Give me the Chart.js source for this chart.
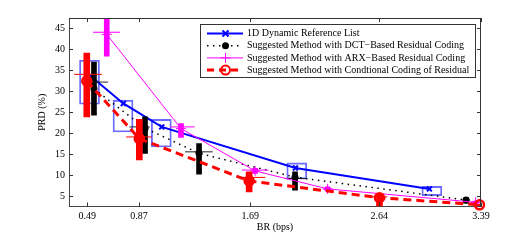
<!DOCTYPE html>
<html>
<head>
<meta charset="utf-8">
<script src="https://cdn.jsdelivr.net/npm/chart.js@4.4.1/dist/chart.umd.min.js"></script>
<style>
html, body { margin: 0; padding: 0; background: #fff; }
#wrap { width: 532px; height: 249px; }
</style>
</head>
<body>
<div id="wrap"><canvas id="chart" width="532" height="249"></canvas></div>
<script>
// tick labels
const xTicks = [0.49, 0.87, 1.69, 2.64, 3.39];
const yTicks = [5, 10, 15, 20, 25, 30, 35, 40, 45];

// 1D Dynamic Reference List
const refBR = [0.52, 0.755, 1.038, 2.023, 3.01];
const refPRD = [33.5, 27.1, 21.5, 11.7, 6.7];
const refBoxX = [0.506, 0.753, 1.035, 2.033, 3.028];
const refBoxLo = [26.9, 20.3, 16.7, 9.05, 5.1];
const refBoxHi = [37.4, 27.9, 23.3, 12.9, 7.3];

// DCT-based residual coding
const dctBR = [0.539, 0.915, 1.313, 2.02, 3.28];
const dctPRD = [30.6, 21.2, 15.2, 9.5, 4.05];
const dctLo = [24.3, 15.2, 10.2, 6.4, 3.3];
const dctHi = [37.0, 23.9, 17.55, 10.8, 4.6];
const dctHY = [32.2, 21.5, 15.55, 9.2, 4.05];
const dctHLo = [0.45, 0.80, 1.21, 1.947, 3.25];
const dctHHi = [0.643, 0.95, 1.414, 2.106, 3.31];

// ARX-based residual coding
const arxBR = [0.633, 1.18, 1.726, 2.26, 3.35];
const arxPRD = [43.6, 21.1, 11.0, 6.7, 3.5];
const arxLo = [38.4, 19.0, 10.4, 6.2, 3.2];
const arxHi = [49, 22.3, 11.6, 7.2, 3.8];
const arxHY = [44.1, 21.5, 11.2, 6.7, 3.5];
const arxHLo = [0.532, 1.10, 1.628, 2.23, 3.32];
const arxHHi = [0.731, 1.28, 1.824, 2.29, 3.38];

// conditional coding of residual
const condBR = [0.486, 0.873, 1.682, 2.642, 3.379];
const condPRD = [32.45, 18.7, 8.6, 4.6, 2.9];
const condLo = [23.9, 13.6, 6.0, 2.6, 2.7];
const condHi = [39.1, 23.3, 10.8, 5.6, 3.1];
const condHY = [34.05, 19.1, 9.45, 4.8, 2.9];
const condHLo = [0.392, 0.775, 1.63, 2.58, 3.36];
const condHHi = [0.596, 0.965, 1.80, 2.70, 3.39];

const legendLabels = [
  '1D Dynamic Reference List',
  'Suggested Method with DCT\u2212Based Residual Coding',
  'Suggested Method with ARX\u2212Based Residual Coding',
  'Suggested Method with Condtional Coding of Residual'
];

const BLUE = '#0000ff', BLACK = '#000000', MAG = '#ff00ff', RED = '#ff0000';

function pts(xs, ys) {
  return xs.map((x, i) => ({ x: x, y: ys[i] }));
}
function bars(xs, lo, hi) {
  return xs.map((x, i) => ({ x: x, y: [lo[i], hi[i]] }));
}
function hsegs(ys, lo, hi) {
  const out = [];
  ys.forEach((y, i) => {
    out.push({ x: lo[i], y: y }, { x: hi[i], y: y }, { x: hi[i], y: null });
  });
  return out;
}
function barSet(data, color, w, order) {
  return { type: 'bar', data: data, backgroundColor: color, borderWidth: 0,
    barThickness: w, grouped: false, order: order, clip: 0 };
}
function hSet(data, color, order) {
  return { type: 'line', data: data, borderColor: color, borderWidth: 1,
    pointRadius: 0, spanGaps: false, order: order };
}

Chart.defaults.font.family = "'Liberation Serif', 'DejaVu Serif', serif";
Chart.defaults.font.size = 10;
Chart.defaults.color = '#000';

// box frame with inward ticks
const frame = {
  id: 'frame',
  afterDatasetsDraw(chart) {
    const { ctx, chartArea: a, scales } = chart;
    ctx.save();
    ctx.strokeStyle = '#333';
    ctx.lineWidth = 1;
    ctx.beginPath();
    ctx.moveTo(a.left, a.top + 0.5); ctx.lineTo(a.right, a.top + 0.5);
    ctx.moveTo(a.right - 0.5, a.top); ctx.lineTo(a.right - 0.5, a.bottom);
    xTicks.forEach(v => {
      const x = Math.round(scales.x.getPixelForValue(v)) + 0.5;
      ctx.moveTo(x, a.bottom); ctx.lineTo(x, a.bottom - 4);
      ctx.moveTo(x, a.top); ctx.lineTo(x, a.top + 4);
    });
    yTicks.forEach(v => {
      const y = Math.round(scales.y.getPixelForValue(v)) + 0.5;
      ctx.moveTo(a.left, y); ctx.lineTo(a.left + 4, y);
      ctx.moveTo(a.right, y); ctx.lineTo(a.right - 4, y);
    });
    ctx.stroke();
    ctx.restore();
  }
};

// legend box with line samples
const legendBox = {
  id: 'legendBox',
  afterDatasetsDraw(chart) {
    const ctx = chart.ctx;
    const bx = 200.5, by = 24.5, bw = 275, bh = 53;
    ctx.save();
    ctx.fillStyle = '#fff';
    ctx.fillRect(bx, by, bw, bh);
    ctx.strokeStyle = '#333';
    ctx.lineWidth = 1;
    ctx.strokeRect(bx, by, bw, bh);
    const styles = [
      { c: BLUE, w: 2, dash: [] },
      { c: BLACK, w: 1.5, dash: [1.5, 4.5] },
      { c: MAG, w: 1, dash: [] },
      { c: RED, w: 3, dash: [7, 5] }
    ];
    legendLabels.forEach((t, i) => {
      const y = 33.5 + i * 12.2;
      const s = styles[i];
      ctx.strokeStyle = s.c;
      ctx.lineWidth = s.w;
      ctx.setLineDash(s.dash);
      ctx.beginPath();
      ctx.moveTo(207, y); ctx.lineTo(243, y);
      ctx.stroke();
      ctx.setLineDash([]);
      const mx = 225.5;
      ctx.beginPath();
      if (i === 0) {
        ctx.lineWidth = 2;
        ctx.moveTo(mx - 3, y - 3); ctx.lineTo(mx + 3, y + 3);
        ctx.moveTo(mx - 3, y + 3); ctx.lineTo(mx + 3, y - 3);
        ctx.stroke();
      } else if (i === 1) {
        ctx.fillStyle = BLACK;
        ctx.arc(mx, y, 3.5, 0, Math.PI * 2);
        ctx.fill();
      } else if (i === 2) {
        ctx.lineWidth = 1;
        ctx.moveTo(mx - 5, y); ctx.lineTo(mx + 5, y);
        ctx.moveTo(mx, y - 5); ctx.lineTo(mx, y + 5);
        ctx.stroke();
      } else {
        ctx.lineWidth = 2;
        ctx.arc(mx, y, 4.5, 0, Math.PI * 2);
        ctx.stroke();
      }
      ctx.fillStyle = '#000';
      ctx.font = "10px 'Liberation Serif'";
      ctx.textBaseline = 'middle';
      ctx.fillText(t, 247, y);
    });
    ctx.restore();
  }
};

const ctx = document.getElementById('chart');
const chart = new Chart(ctx, {
  type: 'line',
  data: {
    datasets: [
      { type: 'bar', data: bars(refBoxX, refBoxLo, refBoxHi), backgroundColor: 'transparent',
        borderColor: 'rgba(70,70,255,0.8)', borderWidth: 1.2, borderSkipped: false,
        barThickness: 20, grouped: false, order: 20, clip: 0 },
      { data: pts(refBR, refPRD), borderColor: BLUE, borderWidth: 2, pointStyle: 'crossRot',
        pointRadius: 3.5, pointBorderWidth: 2, pointBorderColor: BLUE, order: 15, clip: 8 },
      barSet(bars(dctBR, dctLo, dctHi), BLACK, 5, 14),
      hSet(hsegs(dctHY, dctHLo, dctHHi), '#222', 13),
      { data: pts(dctBR, dctPRD), borderColor: BLACK, borderWidth: 1.5, borderDash: [1.5, 4.5],
        pointStyle: 'circle', pointRadius: 3.5, pointBackgroundColor: BLACK, pointBorderWidth: 0,
        order: 12, clip: 8 },
      barSet(bars(arxBR, arxLo, arxHi), MAG, 5, 11),
      hSet(hsegs(arxHY, arxHLo, arxHHi), MAG, 10),
      { data: pts(arxBR, arxPRD), borderColor: MAG, borderWidth: 1, pointStyle: 'cross',
        pointRadius: 5, pointBorderWidth: 1, pointBorderColor: MAG, order: 9, clip: 8 },
      barSet(bars(condBR, condLo, condHi), RED, 6, 8),
      hSet(hsegs(condHY, condHLo, condHHi), RED, 7),
      { data: pts(condBR, condPRD), borderColor: RED, borderWidth: 3, borderDash: [8, 5],
        pointStyle: 'circle', pointRadius: 4.5, pointBorderWidth: 2.5, pointBorderColor: RED,
        pointBackgroundColor: 'rgba(255,255,255,0)', order: 6, clip: 8 }
    ]
  },
  options: {
    responsive: false,
    animation: false,
    events: [],
    layout: { padding: { left: 0, top: 18, right: 51, bottom: 0 } },
    plugins: { legend: { display: false }, tooltip: { enabled: false } },
    scales: {
      x: {
        type: 'linear', min: 0.355, max: 3.39, offset: false,
        afterBuildTicks: s => { s.ticks = xTicks.map(v => ({ value: v })); },
        afterFit: s => { s.height = 42.5; },
        ticks: { padding: 4, maxRotation: 0, autoSkip: false, callback: v => v.toFixed(2) },
        grid: { display: false, drawTicks: false },
        border: { display: true, color: '#444', width: 1 },
        title: { display: true, text: 'BR (bps)', padding: { top: 0, bottom: 16 } }
      },
      y: {
        type: 'linear', min: 2.5, max: 47.5,
        afterBuildTicks: s => { s.ticks = yTicks.map(v => ({ value: v })); },
        afterFit: s => { s.width = 69; },
        ticks: { padding: 4 },
        grid: { display: false, drawTicks: false },
        border: { display: true, color: '#444', width: 1 },
        title: { display: true, text: 'PRD (%)', padding: { top: 36, bottom: 0 } }
      }
    }
  },
  plugins: [frame, legendBox]
});
</script>
</body>
</html>
